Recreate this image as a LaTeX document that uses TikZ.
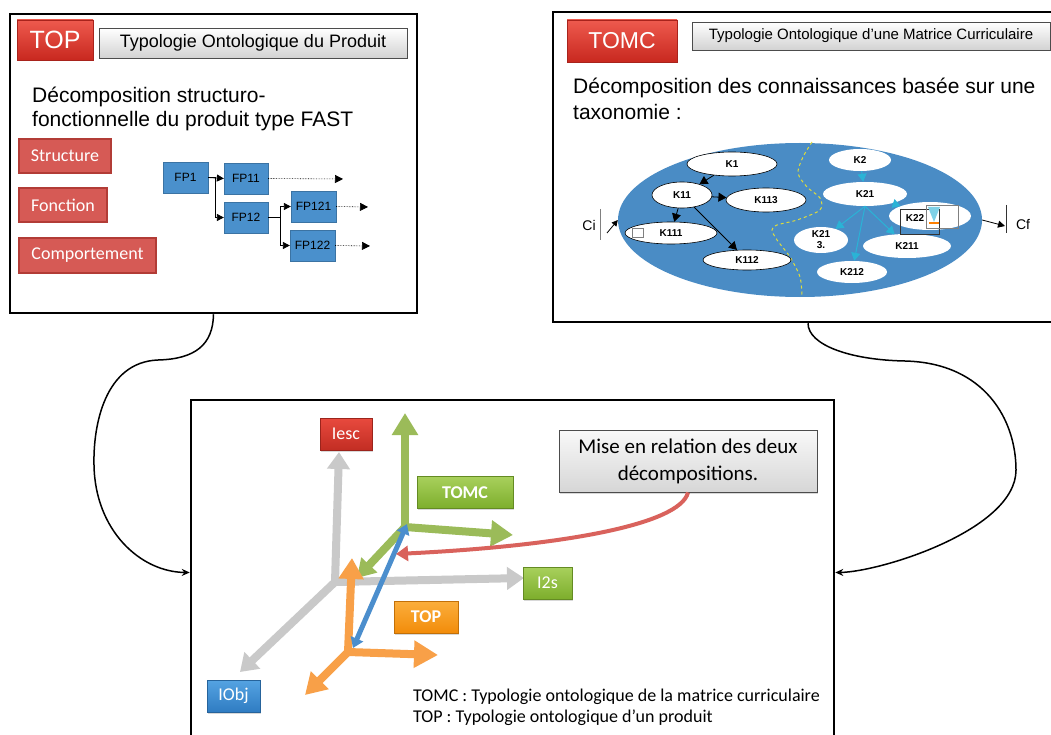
\documentclass[tikz,border=0pt]{standalone}
\usepackage{fontspec}
\setmainfont{Liberation Sans}
\newfontfamily\calfont{Carlito}
\usetikzlibrary{arrows.meta,shapes.geometric,shadows}
\definecolor{tred1}{HTML}{EE5A4E}
\definecolor{tred2}{HTML}{C8281F}
\definecolor{tred3}{HTML}{A8231C}
\definecolor{lred}{HTML}{D65A55}
\definecolor{lredb}{HTML}{B23C36}
\definecolor{fpblue}{HTML}{4A90CC}
\definecolor{ellblue}{HTML}{4A8CC5}
\definecolor{kcyan}{HTML}{2AB3D6}
\definecolor{axgrey}{HTML}{C9C9C9}
\definecolor{agreen}{HTML}{9BBB59}
\definecolor{bgreen1}{HTML}{A8D05C}
\definecolor{bgreen2}{HTML}{7DAE2C}
\definecolor{aorange}{HTML}{F8A048}
\definecolor{borange1}{HTML}{FBAE3C}
\definecolor{borange2}{HTML}{F28C0A}
\definecolor{ablue}{HTML}{4B8ECD}
\definecolor{bblue1}{HTML}{55A3E2}
\definecolor{bblue2}{HTML}{2F7CC2}
\definecolor{bred1}{HTML}{E84A3E}
\definecolor{bred2}{HTML}{C22D23}
\definecolor{cred}{HTML}{D9625C}
\definecolor{yline}{HTML}{E0DC3A}
\tikzset{
  bigframe/.style={rectangle, draw=black, line width=2.5pt, fill=white, inner sep=0},
  redtitle/.style={rectangle, top color=tred1, bottom color=tred2, draw=tred3, line width=0.6pt, text=white, inner sep=0,
    drop shadow={opacity=0.3, shadow xshift=1pt, shadow yshift=-1.5pt}},
  greytitle/.style={rectangle, top color=white, bottom color=gray!35, draw=black!70, line width=0.9pt, inner sep=0,
    drop shadow={opacity=0.25, shadow xshift=1pt, shadow yshift=-1.5pt}},
  lredbox/.style={rectangle, fill=lred, draw=lredb, line width=1.6pt, text=white, inner sep=0, font=\calfont\fontsize{18}{18}\selectfont},
  fpbox/.style={rectangle, fill=fpblue, draw=fpblue!80!black, line width=0.3pt, inner sep=0, minimum width=45pt, minimum height=31pt, font=\fontsize{12}{12}\selectfont},
  fparr/.style={draw=black, line width=0.8pt, -{Triangle[width=7pt,length=7pt]}},
  fpdot/.style={draw=black, line width=0.6pt, densely dotted, -{Triangle[width=8pt,length=8pt]}},
  conn/.style={draw=black, line width=1.5pt, -{Stealth[length=8pt,width=7pt]}},
  kell/.style={ellipse, fill=white, inner sep=0, font=\bfseries\fontsize{10}{10}\selectfont},
  kellb/.style={kell, draw=black, line width=0.6pt},
  karr/.style={draw=black, line width=0.8pt, -{Triangle[width=9pt,length=8pt]}},
  carr/.style={draw=kcyan, line width=1pt, -{Triangle[width=9pt,length=8pt]}},
  gar/.style={draw=axgrey, line width=8pt, -{Triangle[width=22pt,length=17pt]}},
  grar/.style={draw=agreen, line width=8pt, -{Triangle[width=25pt,length=22pt]}},
  orar/.style={draw=aorange, line width=8pt, -{Triangle[width=24pt,length=21pt]}},
  sbox/.style={rectangle, inner sep=0, text=white, line width=0.5pt, font=\calfont\fontsize{18}{18}\selectfont,
    drop shadow={opacity=0.3, shadow xshift=1pt, shadow yshift=-1.5pt}},
}
\begin{document}
\begin{tikzpicture}[x=1pt,y=-1pt]
\clip (0,0) rectangle (1051,735);
\fill[white] (0,0) rectangle (1051,735);

% ---------- frames ----------
\node[bigframe, minimum width=407pt, minimum height=299pt] (tl) at (213.5,163.5) {};
\node[bigframe, minimum width=510pt, minimum height=310pt] (tr) at (808,167) {};
\node[bigframe, minimum width=643pt, minimum height=345pt] (bb) at (512.5,572.5) {};

\draw[conn] (tl.south) .. controls (213,345) and (195,359) .. (158,360)
  .. controls (105,362) and (93,425) .. (94,465)
  .. controls (95,530) and (140,572) .. (bb.west);
\draw[conn] (tr.south) .. controls (808,345) and (850,360) .. (905,361)
  .. controls (985,363) and (1016,420) .. (1016,470)
  .. controls (1016,530) and (880,572) .. (bb.east);

% ---------- top-left ----------
\node[redtitle, minimum width=76pt, minimum height=40pt, font=\fontsize{25}{25}\selectfont] (topt) at (55,40) {TOP};
\node[greytitle, minimum width=308pt, minimum height=30pt, font=\fontsize{18}{18}\selectfont] (topg) at (253,43) {Typologie Ontologique du Produit\hspace{16pt}};
\node[anchor=north west, align=left, inner sep=0, font=\fontsize{21}{24}\selectfont] (dtxt) at (32,87) {Décomposition structuro-\\fonctionnelle du produit type FAST};

\node[lredbox, minimum width=92pt, minimum height=34pt] (str) at (65,156) {Structure};
\node[lredbox, minimum width=88pt, minimum height=34pt] (fon) at (63,205) {Fonction};
\node[lredbox, minimum width=137pt, minimum height=35pt] (com) at (87.5,255.5) {Comportement};

\node[fpbox] (fp1) at (185.5,177.5) {FP1};
\node[fpbox, minimum width=44pt] (fp11) at (246,178.5) {FP11};
\node[fpbox, minimum width=44pt] (fp12) at (246,217.5) {FP12};
\node[fpbox] (fp121) at (313.5,206.5) {FP121};
\node[fpbox] (fp122) at (312.5,245.5) {FP122};
\coordinate (e11) at (343,179);
\coordinate (e121) at (368,207);
\coordinate (e122) at (370,246);
\draw[fparr] (fp1.east) -- (fp11.west);
\draw[fparr] (fp1.east) -- ++(7,0) |- (fp12.west);
\draw[fparr] (fp12.east) -- ++(12,0) |- (fp121.west);
\draw[fparr] (fp12.east) -- ++(12,0) |- (fp122.west);
\draw[fpdot] (fp11.east) -- (e11);
\draw[fpdot] (fp121.east) -- (e121);
\draw[fpdot] (fp122.east) -- (e122);

% ---------- top-right ----------
\node[redtitle, minimum width=110pt, minimum height=42pt, font=\fontsize{23}{23}\selectfont] (tomct) at (622,41) {TOMC};
\node[greytitle, minimum width=358pt, minimum height=28pt, font=\fontsize{15}{15}\selectfont] (tomcg) at (871,36) {Typologie Ontologique d’une Matrice Curriculaire\hspace{8pt}};
\node[anchor=north west, align=left, inner sep=0, font=\fontsize{21}{26}\selectfont] (ttxt) at (573,78) {Décomposition des connaissances basée sur une\\taxonomie :};

\node[ellipse, fill=ellblue, minimum width=364pt, minimum height=154pt, inner sep=0] (bigell) at (800,220) {};
\draw[yline, dashed, line width=1pt] plot[smooth] coordinates {(812,142) (803,157) (798,173) (807,187) (820,198) (820,210) (797,220) (777,225) (772,230) (777,240) (790,257) (800,277) (802,296)};

\node[kellb, minimum width=90pt, minimum height=24pt] (k1) at (732,164) {K1\hspace{10pt}};
\node[kellb, minimum width=60pt, minimum height=26pt] (k11) at (682,195) {K11};
\node[kellb, minimum width=80pt, minimum height=24pt] (k113) at (766,200) {K113\hspace{4pt}};
\node[kellb, minimum width=92pt, minimum height=22pt] (k111) at (671,233) {K111\hspace{6pt}};
\node[kellb, minimum width=88pt, minimum height=20pt] (k112) at (747,260) {K112\hspace{8pt}};
\node[kell, minimum width=62pt, minimum height=22pt] (k2) at (860,160) {K2\hspace{10pt}};
\node[kell, minimum width=84pt, minimum height=24pt] (k21) at (865,194) {K21\hspace{10pt}};
\node[kell, minimum width=82pt, minimum height=28pt] (k22) at (930,216) {};
\node[kell, minimum width=54pt, minimum height=26pt, align=center] (k213) at (821,240) {K21\\[1pt]3.};
\node[kell, minimum width=88pt, minimum height=24pt] (k211) at (907,246) {K211\hspace{10pt}};
\node[kell, minimum width=70pt, minimum height=22pt] (k212) at (852,272) {K212};

\draw[gray, fill=white, line width=0.5pt] (632,228) rectangle (643,237);
\draw[black!80, line width=0.8pt] (900,209) rectangle (939,234);
\draw[gray, line width=0.6pt] (926,205) rectangle (958,228);
\fill[kcyan!60] (928,207) -- (940,207) -- (934,222) -- cycle;
\draw[orange, line width=1.2pt] (929,223) -- (939,223);
\node[font=\bfseries\fontsize{10}{10}\selectfont, inner sep=0] (k22t) at (915,218) {K22};

\draw[karr] (k1) -- (k11);
\draw[karr] (k11) -- (k113);
\draw[karr] (k11) -- (k111);
\draw[karr] (k11) -- (k112);
\draw[carr] (k2) -- (k21);
\draw[carr] (k21) -- (k22);
\draw[carr] (k21.south) -- (k213);
\draw[carr] (k21.south) -- (k212);
\draw[carr] (k21.south) -- (k211);

\node[font=\fontsize{14}{14}\selectfont] (ci) at (589,225) {Ci};
\coordinate (cib1) at (600,209);
\coordinate (cib2) at (600,240);
\draw[gray, line width=1pt] (cib1) -- (cib2);
\coordinate (cia) at (607,233);
\draw[black, line width=0.8pt, -{Triangle[width=6pt,length=6pt]}] (cia) -- (bigell.west);
\coordinate (cfa) at (1005,226);
\draw[black, line width=0.8pt, -{Triangle[width=7pt,length=7pt]}] (bigell.east) -- (cfa);
\coordinate (cfb1) at (1006,205);
\coordinate (cfb2) at (1006,233);
\draw[black!80, line width=0.8pt] (cfb1) -- (cfb2);
\node[font=\fontsize{14}{14}\selectfont] (cf) at (1023,225) {Cf};

% ---------- bottom ----------
\coordinate (g0) at (335,582);
\coordinate (gup) at (339,452);
\coordinate (gri) at (524,578);
\coordinate (gdl) at (240,672);
\draw[gar] (g0) -- (gup);
\draw[gar] (g0) -- (gri);
\draw[gar] (g0) -- (gdl);

\coordinate (v0) at (405,527);
\coordinate (vup) at (405,413);
\coordinate (vri) at (513,535);
\coordinate (vdl) at (357,578);
\draw[grar] (v0) -- (vup);
\draw[grar] (v0) -- (vri);
\draw[grar, -{Triangle[width=21pt,length=18pt]}] (v0) -- (vdl);

\coordinate (o0) at (348,652);
\coordinate (oup) at (352,558);
\coordinate (ori) at (438,655);
\coordinate (odl) at (305,695);
\draw[orar] (o0) -- (oup);
\draw[orar, -{Triangle[width=26pt,length=24pt]}] (o0) -- (ori);
\draw[orar] (o0) -- (odl);

\coordinate (b1) at (353,648);
\coordinate (b2) at (407,524);
\draw[draw=ablue, line width=5pt, {Triangle[width=13pt,length=10pt]}-{Triangle[width=13pt,length=10pt]}] (b1) -- (b2);

\node[sbox, top color=bred1, bottom color=bred2, draw=bred2!80!black, minimum width=52pt, minimum height=32pt] (iesc) at (346,434) {Iesc};
\node[sbox, top color=bgreen1, bottom color=bgreen2, draw=bgreen2!80!black, minimum width=49pt, minimum height=32pt] (i2s) at (547.5,583) {I2s};
\node[sbox, top color=bblue1, bottom color=bblue2, draw=bblue2!80!black, minimum width=53pt, minimum height=32pt] (iobj) at (233.5,696) {IObj};
\node[sbox, top color=bgreen1, bottom color=bgreen2, draw=bgreen2!80!black, minimum width=96pt, minimum height=32pt, font=\calfont\bfseries\fontsize{18}{18}\selectfont] (tomcb) at (465,492.5) {TOMC};
\node[sbox, top color=borange1, bottom color=borange2, draw=borange2!80!black, minimum width=64pt, minimum height=32pt, font=\calfont\bfseries\fontsize{18}{18}\selectfont] (topb) at (426,617) {TOP};

\node[rectangle, top color=gray!5, bottom color=gray!32, draw=black!70, line width=0.9pt, minimum width=258pt, minimum height=62pt, inner sep=0, align=center, font=\calfont\fontsize{21}{27}\selectfont,
  drop shadow={opacity=0.3, shadow xshift=1pt, shadow yshift=-1.5pt}] (call) at (688,461) {Mise en relation des deux\\décompositions.};
\coordinate (rend) at (396,554);
\draw[draw=cred, line width=4pt, -{Triangle[width=15pt,length=12pt]}] (call.south) .. controls (680,525) and (560,546) .. (rend);

\node[anchor=base west, inner sep=0, font=\calfont\fontsize{18}{18}\selectfont] (leg1) at (413,701) {TOMC : Typologie ontologique de la matrice curriculaire};
\node[anchor=base west, inner sep=0, font=\calfont\fontsize{18}{18}\selectfont] (leg2) at (413,722) {TOP : Typologie ontologique d’un produit};
\end{tikzpicture}
\end{document}
